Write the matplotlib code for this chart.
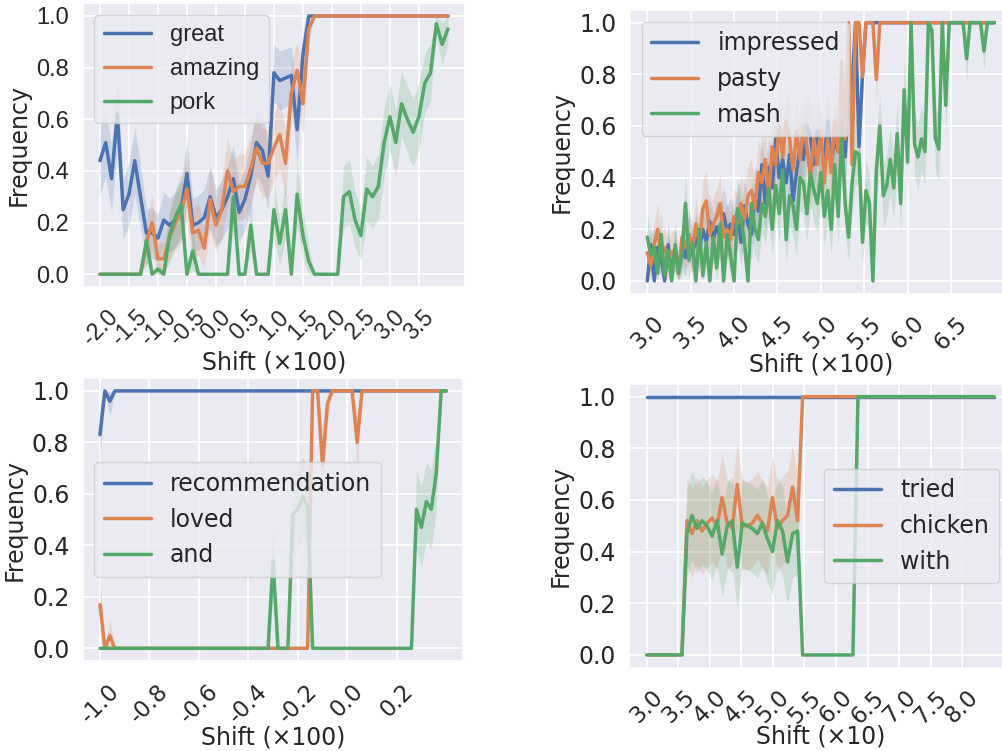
import numpy as np
import matplotlib
matplotlib.use('Agg')
import matplotlib.pyplot as plt
import seaborn as sns

sns.set_theme(style='darkgrid')
plt.rcParams['font.family'] = ['DejaVu Sans']
plt.rcParams['axes.unicode_minus'] = False
for k in ['font.size', 'axes.labelsize', 'ytick.labelsize', 'legend.fontsize']:
    plt.rcParams[k] = 17
plt.rcParams['xtick.labelsize'] = 16.5
plt.rcParams['xtick.major.pad'] = 7
plt.rcParams['grid.linewidth'] = 1.3

palette = sns.color_palette('deep')

# ---- top left: great / amazing / pork ----
tl_x = np.round(np.arange(-2.0, 4.01, 0.1), 2)
great = [0.44, 0.51, 0.37, 0.62, 0.25, 0.31, 0.44, 0.30, 0.16, 0.16,
         0.14, 0.21, 0.19, 0.21, 0.25, 0.39, 0.19, 0.20, 0.22, 0.30,
         0.22, 0.25, 0.30, 0.37, 0.24, 0.29, 0.38, 0.51, 0.48, 0.38,
         0.78, 0.75, 0.76, 0.77, 0.56, 0.85, 1.0] + [1.0] * 24
amazing = [0.0] * 8 + [0.12, 0.20, 0.06, 0.06, 0.14, 0.20, 0.24, 0.33, 0.16, 0.17,
                       0.10, 0.29, 0.19, 0.25, 0.40, 0.32, 0.34, 0.34, 0.41, 0.49,
                       0.43, 0.43, 0.49, 0.54, 0.43, 0.70, 0.79, 0.66, 0.95] + [1.0] * 24
pork = [0.0] * 8 + [0.13, 0.0, 0.02, 0.0, 0.15, 0.22, 0.27, 0.0, 0.09, 0.0,
                    0.0, 0.0, 0.0, 0.0, 0.0,
                    0.30, 0.0, 0.0, 0.19, 0.0, 0.0, 0.0,
                    0.25, 0.12, 0.25, 0.0, 0.31, 0.15, 0.05, 0.0,
                    0.0, 0.0, 0.0, 0.0,
                    0.30, 0.32, 0.21, 0.15, 0.33, 0.30, 0.34, 0.51, 0.61, 0.51,
                    0.66, 0.60, 0.55, 0.61, 0.74, 0.78, 0.97, 0.89, 0.95]
tl_ticks = [-2.0, -1.5, -1.0, -0.5, 0.0, 0.5, 1.0, 1.5, 2.0, 2.5, 3.0, 3.5]

# ---- top right: impressed / pasty / mash ----
tr_x = np.round(np.arange(3.0, 7.001, 0.04), 2)
impressed = [0.00, 0.14, 0.00, 0.13, 0.09, 0.00, 0.14, 0.03, 0.12, 0.05,
             0.13, 0.09, 0.18, 0.10, 0.17, 0.12, 0.20, 0.15, 0.23, 0.16,
             0.21, 0.17, 0.26, 0.19, 0.22, 0.18, 0.27, 0.15, 0.29, 0.22,
             0.18, 0.33, 0.27, 0.45, 0.30, 0.44, 0.36, 0.55, 0.40, 0.47,
             0.38, 0.49, 0.31, 0.42, 0.52, 0.47, 0.60, 0.56, 0.45, 0.58,
             0.52, 0.48, 0.62, 0.45, 0.55, 0.50, 0.62, 0.48, 0.70, 0.75,
             1.00, 0.52, 0.80, 1.00] + [1.0] * 37
pasty = [0.11, 0.06, 0.14, 0.20, 0.10, 0.13, 0.08, 0.11, 0.12, 0.03,
         0.17, 0.13, 0.18, 0.12, 0.22, 0.14, 0.28, 0.31, 0.18, 0.22,
         0.25, 0.30, 0.17, 0.20, 0.16, 0.25, 0.22, 0.30, 0.24, 0.33,
         0.35, 0.28, 0.42, 0.38, 0.47, 0.33, 0.52, 0.45, 0.60, 0.48,
         0.62, 0.55, 0.43, 0.58, 0.47, 0.60, 0.52, 0.40, 0.55, 0.45,
         0.58, 0.38, 0.55, 0.42, 0.62, 0.50, 0.85, 0.55, 1.00, 0.45,
         1.00, 1.00, 0.79, 1.00, 1.00, 1.00, 0.78] + [1.0] * 34
mash = [0.17, 0.10, 0.13, 0.03, 0.18, 0.02, 0.12, 0.00, 0.14, 0.03,
        0.10, 0.30, 0.08, 0.15, 0.00, 0.20, 0.02, 0.15, 0.00, 0.17,
        0.05, 0.22, 0.00, 0.18, 0.10, 0.00, 0.28, 0.24, 0.15, 0.00,
        0.30, 0.20, 0.16, 0.30, 0.25, 0.36, 0.20, 0.37, 0.26, 0.43,
        0.16, 0.33, 0.29, 0.20, 0.40, 0.38, 0.26, 0.42, 0.35, 0.30,
        0.42, 0.25, 0.35, 0.20, 0.45, 0.25, 0.57, 0.30, 0.17, 0.38,
        0.50, 0.49, 0.15, 0.35, 0.30, 0.00, 0.43, 0.60, 0.33, 0.37,
        0.47, 0.36, 0.57, 0.30, 0.74, 0.46, 1.00, 0.53, 0.48, 0.55,
        0.50, 1.00, 0.97, 0.55, 0.51, 1.00, 0.68, 1.00, 1.00, 1.00,
        1.00, 1.00, 0.86, 1.00, 1.00, 1.00, 1.00, 0.89, 1.00, 1.00,
        1.00]
tr_ticks = [3.0, 3.5, 4.0, 4.5, 5.0, 5.5, 6.0, 6.5]

# ---- bottom left: recommendation / loved / and ----
bl_x = np.round(np.arange(-1.0, 0.401, 0.02), 2)
recommendation = [0.83, 1.0, 0.96, 1.0] + [1.0] * 67
loved = [0.17, 0.0, 0.05, 0.0] + [0.0] * 39 + \
        [1.0, 1.0, 0.71, 0.95, 1.0, 1.0, 1.0, 1.0, 1.0, 0.80] + [1.0] * 18
and_ = [0.0] * 35 + [0.34, 0.0, 0.0, 0.0, 0.52, 0.54, 0.59, 0.55] + [0.0] * 21 + \
       [0.54, 0.47, 0.57, 0.54, 0.68, 1.0, 1.0]
bl_ticks = [-1.0, -0.8, -0.6, -0.4, -0.2, 0.0, 0.2]

# ---- bottom right: tried / chicken / with ----
br_x = np.linspace(3.0, 8.5, 70)
tried = [1.0] * 70
chicken = [0.0] * 8 + [0.52, 0.47, 0.52, 0.48, 0.51, 0.53, 0.50, 0.61, 0.51, 0.49,
                       0.66, 0.50, 0.50, 0.51, 0.54, 0.51, 0.48, 0.61, 0.49, 0.52,
                       0.54, 0.65, 0.52] + [1.0] * 39
with_ = [0.0] * 8 + [0.47, 0.54, 0.49, 0.52, 0.50, 0.46, 0.52, 0.39, 0.50, 0.52,
                     0.34, 0.51, 0.50, 0.49, 0.47, 0.51, 0.45, 0.40, 0.52, 0.48,
                     0.36, 0.47, 0.48] + [0.0] * 11 + [1.0] * 28
br_ticks = [3.0, 3.5, 4.0, 4.5, 5.0, 5.5, 6.0, 6.5, 7.0, 7.5, 8.0]

fig = plt.figure(figsize=(10.02, 7.51), dpi=100)


def panel(rect, x, series, n, ticks, xlabel, loc, label_y, family='DejaVu Sans'):
    ax = fig.add_axes(rect)
    for (label, vals), color in zip(series, palette):
        y = np.array(vals, dtype=float)
        # normal-approx CI of a proportion over n samples
        half = 1.96 * np.sqrt(y * (1 - y) / n)
        ax.fill_between(x, np.clip(y - half, 0, 1), np.clip(y + half, 0, 1),
                        color=color, alpha=0.2, lw=0)
        ax.plot(x, y, color=color, lw=2.5, label=label)
    ax.set_xticks(ticks)
    ax.set_yticks([0.0, 0.2, 0.4, 0.6, 0.8, 1.0])
    plt.setp(ax.get_xticklabels(), rotation=45)
    ax.set_xlabel(xlabel)
    ax.set_ylabel('Frequency')
    ax.xaxis.set_label_coords(0.5, label_y)
    leg = ax.legend(loc=loc)
    for t in ax.get_xticklabels() + ax.get_yticklabels() + leg.get_texts():
        t.set_fontfamily(family)
    return ax


panel([0.0824, 0.6176, 0.382, 0.3783], tl_x,
      [('great', great), ('amazing', amazing), ('pork', pork)], 55,
      tl_ticks, 'Shift (×100)', 'upper left', -0.222, 'Liberation Sans')
panel([0.6287, 0.6087, 0.381, 0.3783], tr_x,
      [('impressed', impressed), ('pasty', pasty), ('mash', mash)], 60,
      tr_ticks, 'Shift (×100)', 'upper left', -0.207)
panel([0.0825, 0.1196, 0.380, 0.377], bl_x,
      [('recommendation', recommendation), ('loved', loved), ('and', and_)], 40,
      bl_ticks, 'Shift (×100)', 'center left', -0.226)
panel([0.6281, 0.1107, 0.381, 0.3783], br_x,
      [('tried', tried), ('chicken', chicken), ('with', with_)], 33,
      br_ticks, 'Shift (×10)', 'center right', -0.2)

fig.savefig('out.png', dpi=100)
